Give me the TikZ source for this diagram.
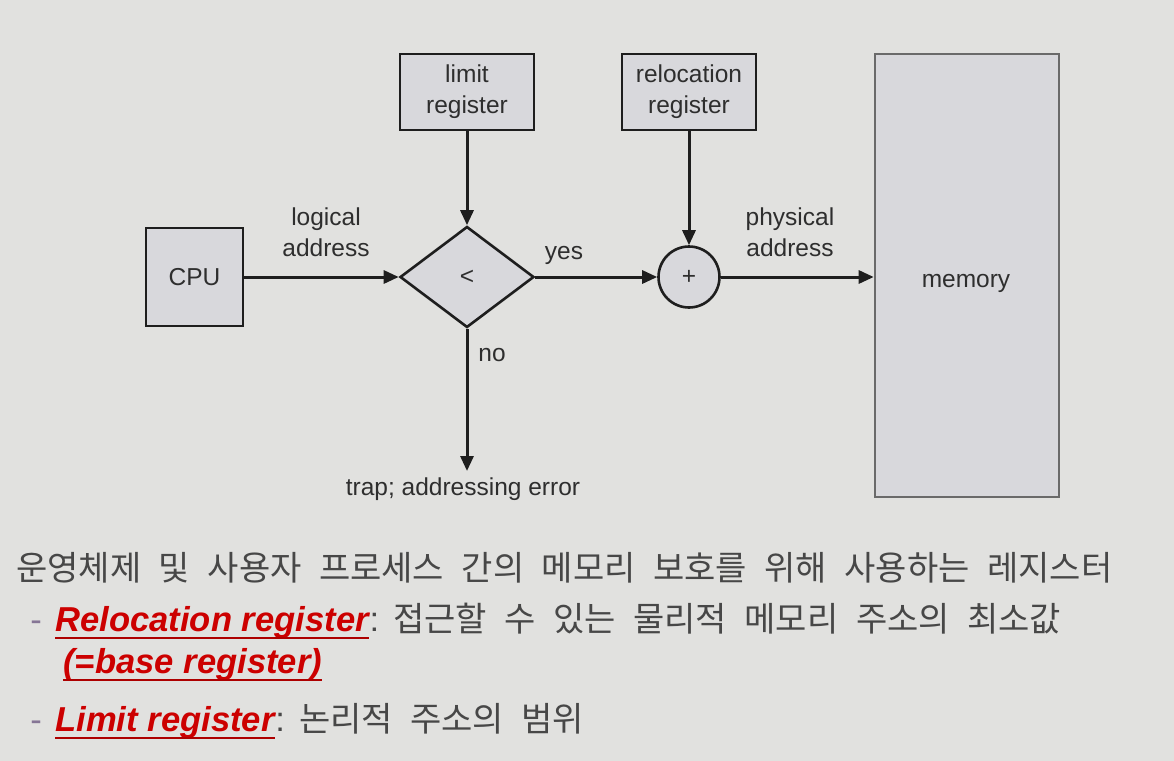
\documentclass[tikz,border=0pt]{standalone}
\usepackage{fontspec}
\setmainfont{Liberation Sans}
\newfontfamily\kr{Noto Sans CJK KR}
\usetikzlibrary{arrows.meta,shapes.geometric}
\definecolor{bg}{HTML}{E1E1DF}
\definecolor{boxfill}{HTML}{D8D8DC}
\definecolor{ink}{HTML}{1E1E1E}
\definecolor{txt}{HTML}{2E2E2E}
\definecolor{ktxt}{HTML}{474747}
\definecolor{memedge}{HTML}{6A6A6A}
\definecolor{redc}{HTML}{CC0000}
\definecolor{dashc}{HTML}{857595}
\tikzset{
  lbl/.style={font=\fontsize{12.25pt}{15.5pt}\selectfont, text=txt, inner sep=0pt, align=center},
  regbox/.style={draw=ink, line width=1.3pt, fill=boxfill, lbl, inner sep=0pt},
  conn/.style={draw=ink, line width=1.5pt, -{Triangle[length=7.5pt,width=6.5pt]}},
  emph/.style={font=\fontsize{17.3pt}{20pt}\selectfont\bfseries\itshape, text=redc, inner sep=0pt},
  kor/.style={font=\fontsize{17pt}{20pt}\selectfont, text=ktxt, inner sep=0pt},
  dashtxt/.style={font=\fontsize{17.3pt}{20pt}\selectfont, text=dashc, inner sep=0pt},
  uline/.style={draw=redc!85!black, line width=1pt}
}
\newcommand\kline[1]{{\kr\spaceskip=8.75pt\relax #1}}
\newcommand\kcolon{{\fontsize{17.3pt}{20pt}\selectfont :}\hspace{7pt}}
\begin{document}
\begin{tikzpicture}[x=0.5pt,y=-0.5pt]
\useasboundingbox (0,0) rectangle (1174,761);
\fill[bg] (0,0) rectangle (1174,761);

% diagram
\node[regbox, minimum width=48.5pt, minimum height=49pt] (cpu) at (194.5,277) {CPU};
\node[regbox, minimum width=67pt, minimum height=38pt] (limit) at (467,92) {limit\\register};
\node[regbox, minimum width=67pt, minimum height=38pt] (reloc) at (689,92) {relocation\\register};
\node[regbox, shape=diamond, minimum width=67pt, minimum height=50.5pt] (cmp) at (467,277) {<};
\node[regbox, shape=circle, minimum size=30.5pt] (add) at (689,277) {+};
\node[draw=memedge, line width=1.3pt, fill=boxfill, minimum width=92pt, minimum height=221.5pt, inner sep=0pt] (mem) at (967,275.5) {};
\node[lbl, anchor=base] (memtxt) at (966,287) {memory};

\coordinate (trapend) at (467,471);
\draw[conn] (cpu.east) -- (cmp.west);
\draw[conn] (limit.south) -- (cmp.north);
\draw[conn] (cmp.east) -- (add.west);
\draw[conn] (reloc.south) -- (add.north);
\draw[conn] (add.east) -- (mem.west |- add.east);
\draw[conn] (cmp.south) -- (trapend);

\node[lbl, anchor=south] (logical) at (326,257) {logical\\address};
\node[lbl, anchor=south] (physical) at (790,257) {physical\\address};
\node[lbl, anchor=base] (yes) at (564,259) {yes};
\node[lbl, anchor=base] (no) at (492,361) {no};
\node[lbl, anchor=base] (trap) at (463,495) {trap; addressing error};

% text below
\node[kor, anchor=base west] (k0) at (16,580) {\kline{운영체제 및 사용자 프로세스 간의 메모리 보호를 위해 사용하는 레지스터}};

\node[dashtxt, anchor=base west] (d1) at (30,631) {-};
\node[emph, anchor=base west] (r1) at (55,631) {Relocation register};
\node[kor, anchor=base west] (k1) at (r1.base east) {\kcolon\kline{접근할 수 있는 물리적 메모리 주소의 최소값}};
\node[emph, anchor=base west] (r2) at (63,673) {(=base register)};

\node[dashtxt, anchor=base west] (d2) at (30,731) {-};
\node[emph, anchor=base west] (r3) at (55,731) {Limit register};
\node[kor, anchor=base west] (k3) at (r3.base east) {\kcolon\kline{논리적 주소의 범위}};

\draw[uline] ([yshift=-3.5pt]r1.base west) -- ([yshift=-3.5pt]r1.base east);
\draw[uline] ([yshift=-3.5pt]r2.base west) -- ([yshift=-3.5pt]r2.base east);
\draw[uline] ([yshift=-3.5pt]r3.base west) -- ([yshift=-3.5pt]r3.base east);
\end{tikzpicture}
\end{document}
